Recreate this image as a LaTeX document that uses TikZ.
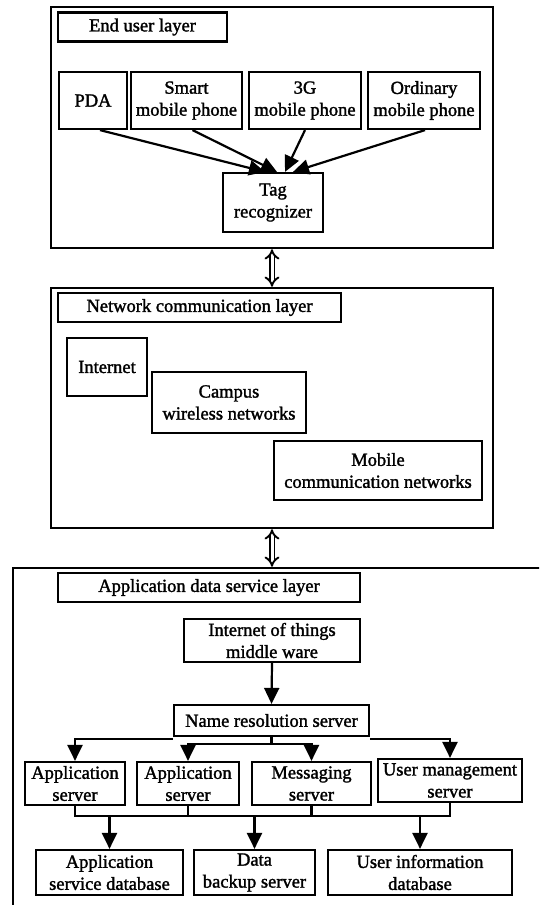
\documentclass[tikz,border=0pt]{standalone}
\usepackage{fontspec}
\setmainfont{Liberation Serif}[AutoFakeBold=1.6]
\usetikzlibrary{arrows.meta, positioning}

\tikzset{
  layer/.style={draw, line width=2.4pt, inner sep=0pt},
  box/.style={draw, line width=2.2pt, inner sep=0pt, align=center,
    font=\fontsize{18.5}{22}\selectfont\bfseries},
  title/.style={box, minimum height=29pt},
  arr/.style={line width=2.2pt, -{Triangle[length=16pt, width=15pt]}},
  link/.style={line width=2.2pt},
  dbl/.style={double, double distance=3pt, line width=1.9pt,
    {Implies[length=8pt]}-{Implies[length=8pt]}}
}

\begin{document}
\begin{tikzpicture}[x=1pt, y=-1pt]
  \useasboundingbox (0,0) rectangle (539,905);
  \clip (0,0) rectangle (539,905);

  % end user layer
  \node[layer, minimum width=442pt, minimum height=241pt] (eu) at (272,127.5) {};
  \node[title, minimum width=169pt] (eutitle) at (142.5,27) {End user layer};
  \node[box, minimum width=68pt,  minimum height=57pt] (pda)   at (93,100.5)  {PDA};
  \node[box, minimum width=111pt, minimum height=57pt] (smart) at (186.5,100.5) {Smart\\mobile phone};
  \node[box, minimum width=112pt, minimum height=57pt] (thrg)  at (305,100.5) {3G\\mobile phone};
  \node[box, minimum width=112pt, minimum height=57pt] (ordn)  at (424,100.5) {Ordinary\\mobile phone};
  \node[box, minimum width=100pt, minimum height=59pt] (tag)   at (273,202.5) {Tag\\recognizer};

  \draw[arr] ([xshift=7pt]pda.south)   -- ([xshift=-8pt]tag.north);
  \draw[arr] ([xshift=6pt]smart.south) -- ([xshift=4pt]tag.north);
  \draw[arr] (thrg.south)              -- ([xshift=12pt]tag.north);
  \draw[arr] ([xshift=1pt]ordn.south)  -- ([xshift=20pt]tag.north);

  % network communication layer
  \node[layer, minimum width=442pt, minimum height=240pt] (net) at (272,408) {};
  \node[title, minimum width=283pt] (nettitle) at (199.5,307.5) {Network communication layer};
  \node[box, minimum width=80pt,  minimum height=58pt] (inet)   at (107,367)   {Internet};
  \node[box, minimum width=154pt, minimum height=61pt] (campus) at (229,402.5) {Campus\\wireless networks};
  \node[box, minimum width=208pt, minimum height=59pt] (mobnet) at (378,470.5) {Mobile\\communication networks};

  % application data service layer (runs past the page edge)
  \node[layer, minimum width=547pt, minimum height=362pt] (app) at (286.5,749) {};
  \node[title, minimum width=302pt] (apptitle) at (209,587.5) {Application data service layer};
  \node[box, minimum width=176pt, minimum height=43pt] (iot) at (272,640.5) {Internet of things\\middle ware};
  \node[box, minimum width=195pt, minimum height=31pt] (nrs) at (271.5,720.5) {Name resolution server};

  \node[box, minimum width=100pt, minimum height=43pt] (as1) at (75,783.5)    {Application\\server};
  \node[box, minimum width=102pt, minimum height=43pt] (as2) at (188,783.5)   {Application\\server};
  \node[box, minimum width=119pt, minimum height=43pt] (msg) at (311.5,783.5) {Messaging\\server};
  \node[box, minimum width=144pt, minimum height=43pt] (ums) at (450,780.5)   {User management\\server};

  \node[box, minimum width=147pt, minimum height=45pt] (asd) at (109.5,872.5) {Application\\service database};
  \node[box, minimum width=121pt, minimum height=45pt] (dbs) at (254.5,872.5) {Data\\backup server};
  \node[box, minimum width=184pt, minimum height=45pt] (uid) at (420,872.5)   {User information\\database};

  % links between the layers
  \draw[dbl] (eu.south) -- (net.north);
  \draw[dbl] (net.south) -- (net.south |- app.north);

  \draw[arr] (iot.south) -- (nrs.north);
  \draw[arr] ([yshift=-2pt]nrs.south west) -| (as1.north);
  \draw[arr] ([yshift=-2pt]nrs.south east) -| (ums.north);
  \coordinate (split) at ([yshift=-7pt]nrs.south);
  \draw[link] (nrs.south) -- (split);
  \draw[arr] (split) -| (as2.north);
  \draw[arr] (split) -| (msg.north);

  \coordinate (bus) at (0,816);
  \draw[link] (as1.south) -- (as1.south |- bus) -- (ums.south |- bus) -- (ums.south);
  \foreach \s in {as2, msg}
    \draw[link] (\s.south) -- (\s.south |- bus);
  \foreach \d in {asd, dbs, uid}
    \draw[arr] (\d.north |- bus) -- (\d.north);
\end{tikzpicture}
\end{document}
